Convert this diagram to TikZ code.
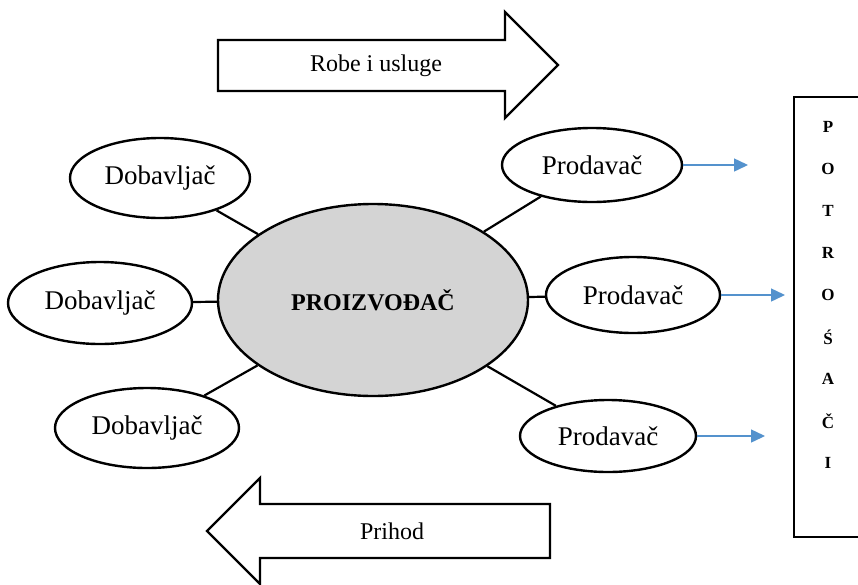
\documentclass[tikz,border=0pt]{standalone}
\usepackage{fontspec}
\setmainfont{Liberation Serif}
\usetikzlibrary{shapes.geometric,arrows.meta}
\definecolor{prodgray}{RGB}{212,212,212}
\definecolor{flowblue}{RGB}{84,146,205}
\tikzset{
    oval/.style={draw,ellipse,line width=2.4pt,inner sep=0pt,font=\fontsize{27}{31}\selectfont},
    link/.style={line width=2.2pt},
    tosale/.style={draw=flowblue,line width=1.4pt,-{Triangle[length=14pt,width=13pt]},flowblue}
}
\begin{document}
\begin{tikzpicture}[x=1pt,y=-1pt]
    \clip (0,0) rectangle (858,584);
    \fill[white] (0,0) rectangle (858,584);

    % tokovi robe i novca
    \draw[line width=2.4pt,line join=miter] (218,40) -- (505,40) -- (505,12) -- (558,65) -- (505,118) -- (505,91) -- (218,91) -- cycle;
    \node[font=\fontsize{24}{28}\selectfont] (robe) at (376,66) {Robe i usluge};
    \draw[line width=2.4pt,line join=miter] (550,504) -- (260,504) -- (260,478) -- (207,531) -- (260,584) -- (260,558) -- (550,558) -- cycle;
    \node[font=\fontsize{24}{28}\selectfont] (prihod) at (392,531) {Prihod};

    % proizvodjac
    \node[oval,fill=prodgray,minimum width=310pt,minimum height=192pt,font=\fontsize{24}{28}\selectfont\bfseries] (proiz) at (373,300) {PROIZVOĐAČ};

    \node[oval,minimum width=180pt,minimum height=80pt] (dob1) at (160,178) {Dobavljač};
    \node[oval,minimum width=184pt,minimum height=82pt] (dob2) at (100,303) {Dobavljač};
    \node[oval,minimum width=184pt,minimum height=80pt] (dob3) at (147,428) {Dobavljač};

    \node[oval,minimum width=180pt,minimum height=74pt] (prod1) at (592,165) {Prodavač};
    \node[oval,minimum width=174pt,minimum height=76pt] (prod2) at (633,295) {Prodavač};
    \node[oval,minimum width=176pt,minimum height=72pt] (prod3) at (608,436) {Prodavač};

    \foreach \n in {dob1,dob2,dob3,prod1,prod2,prod3}
        \draw[link] (proiz) -- (\n);

    % potrosaci
    \draw[line width=2.4pt] (794,97) rectangle (880,537);
    \foreach \l [count=\i] in {P,O,T,R,O,Ś,A,Č,I}
        \node[font=\fontsize{17}{19}\selectfont\bfseries] (slovo\i) at (828,{127+42*(\i-1)}) {\l};

    \coordinate (kup1) at (748,165);
    \coordinate (kup2) at (785,295);
    \coordinate (kup3) at (765,436);
    \draw[tosale] (prod1) -- (kup1);
    \draw[tosale] (prod2) -- (kup2);
    \draw[tosale] (prod3) -- (kup3);
\end{tikzpicture}
\end{document}
